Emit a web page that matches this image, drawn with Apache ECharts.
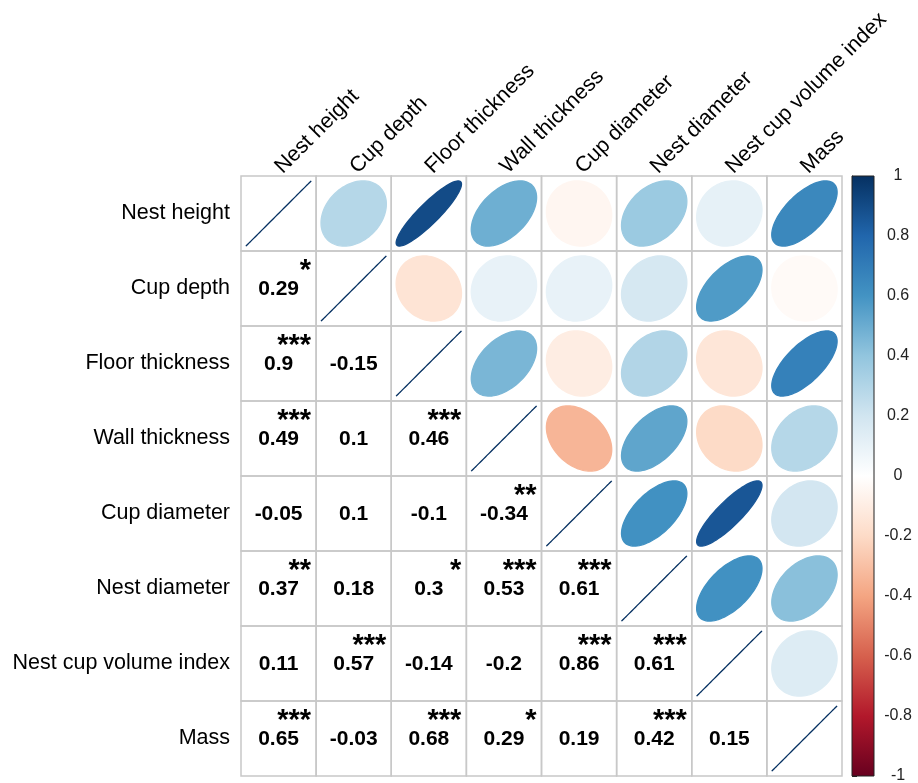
<!DOCTYPE html>
<html>
<head>
<meta charset="utf-8">
<script src="https://cdn.jsdelivr.net/npm/echarts@6/dist/echarts.min.js"></script>
<style>
  html, body { margin: 0; padding: 0; background: #fff; }
  #main { width: 918px; height: 783px; }
</style>
</head>
<body>
<div id="main"></div>
<script>
// variables, in matrix order
const variables = ['Nest height', 'Cup depth', 'Floor thickness', 'Wall thickness',
  'Cup diameter', 'Nest diameter', 'Nest cup volume index', 'Mass'];

// lower triangle of the correlation matrix (row i, columns 0..i)
const corrLower = [
  [1],
  [0.29, 1],
  [0.9, -0.15, 1],
  [0.49, 0.1, 0.46, 1],
  [-0.05, 0.1, -0.1, -0.34, 1],
  [0.37, 0.18, 0.3, 0.53, 0.61, 1],
  [0.11, 0.57, -0.14, -0.2, 0.86, 0.61, 1],
  [0.65, -0.03, 0.68, 0.29, 0.19, 0.42, 0.15, 1]
];

// significance stars, same layout
const sigLower = [
  [''],
  ['*', ''],
  ['***', '', ''],
  ['***', '', '***', ''],
  ['', '', '', '**', ''],
  ['**', '', '*', '***', '***', ''],
  ['', '***', '', '', '***', '***', ''],
  ['***', '', '***', '*', '', '***', '', '']
];

// RdBu palette, from -1 to 1
const palette = ['#67001F', '#B2182B', '#D6604D', '#F4A582', '#FDDBC7', '#FFFFFF',
  '#D1E5F0', '#92C5DE', '#4393C3', '#2166AC', '#053061'];
const scaleMin = -1, scaleMax = 1, scaleStep = 0.2;

const FONT = "'Liberation Sans', Arial, sans-serif";

function corr(i, j) {
  return i >= j ? corrLower[i][j] : corrLower[j][i];
}

const cells = [];
for (let row = 0; row < variables.length; row++) {
  for (let col = 0; col < variables.length; col++) {
    cells.push([col, row, corr(row, col)]);
  }
}

function renderCell(params, api) {
  const col = api.value(0);
  const row = api.value(1);
  const r = api.value(2);
  const c = api.coord([col, row]);
  const size = api.size([1, 1]);
  const w = size[0], h = size[1];
  const children = [{
    type: 'rect',
    shape: { x: c[0] - w / 2, y: c[1] - h / 2, width: w, height: h },
    style: { fill: null, stroke: '#c8c8c8', lineWidth: 1.5 }
  }];
  if (col >= row) {
    // corrplot style ellipse
    const d = Math.acos(r);
    const pts = [];
    for (let i = 0; i < 99; i++) {
      const k = 2 * Math.PI * i / 98;
      pts.push([
        c[0] + Math.cos(k + d / 2) / 2 * w * 0.87,
        c[1] - Math.cos(k - d / 2) / 2 * h * 0.87
      ]);
    }
    const color = api.visual('color');
    children.push({
      type: 'polygon',
      shape: { points: pts },
      style: { fill: color, stroke: color, lineWidth: 1.3 }
    });
  } else {
    children.push({
      type: 'text',
      style: {
        x: c[0], y: c[1] + 1, text: String(r),
        font: 'bold 21px ' + FONT, fill: '#000',
        align: 'center', verticalAlign: 'middle'
      }
    });
    const sig = sigLower[row][col];
    if (sig) {
      children.push({
        type: 'text',
        style: {
          x: c[0] + w / 2 - 5, y: c[1] - 18, text: sig,
          font: 'bold 29px ' + FONT, fill: '#000',
          align: 'right', verticalAlign: 'middle'
        }
      });
    }
  }
  return { type: 'group', children: children };
}

function renderBar(params, api) {
  const cs = params.coordSys;
  const stops = palette.map((col, i) => ({ offset: 1 - i / (palette.length - 1), color: col }));
  return {
    type: 'rect',
    shape: { x: cs.x, y: cs.y, width: cs.width, height: cs.height },
    style: {
      fill: new echarts.graphic.LinearGradient(0, 0, 0, 1, stops),
      stroke: '#222', lineWidth: 1
    }
  };
}

const chart = echarts.init(document.getElementById('main'));
chart.setOption({
  animation: false,
  backgroundColor: '#fff',
  grid: [
    { left: 241, top: 176, width: 601, height: 600, outerBoundsMode: 'none' },
    { left: 852, top: 176, width: 22, height: 600, outerBoundsMode: 'none' }
  ],
  xAxis: [{
    type: 'category', gridIndex: 0, position: 'top', data: variables,
    axisLine: { show: false }, axisTick: { show: false }, splitLine: { show: false },
    axisLabel: { interval: 0, rotate: -45, fontSize: 21.5, fontFamily: FONT, color: '#000', margin: 6 }
  }, {
    type: 'value', gridIndex: 1, min: 0, max: 1, show: false
  }],
  yAxis: [{
    type: 'category', gridIndex: 0, inverse: true, data: variables,
    axisLine: { show: false }, axisTick: { show: false }, splitLine: { show: false },
    axisLabel: { interval: 0, fontSize: 21.5, fontFamily: FONT, color: '#000', margin: 11 }
  }, {
    type: 'value', gridIndex: 1, position: 'right',
    min: scaleMin, max: scaleMax, interval: scaleStep,
    axisLine: { show: true, lineStyle: { color: '#222', width: 1 } },
    axisTick: { show: true, length: 5, lineStyle: { color: '#222' } },
    splitLine: { show: false },
    axisLabel: { fontSize: 16, fontFamily: FONT, color: '#222', align: 'center', margin: 24 }
  }],
  visualMap: {
    type: 'continuous', show: false, min: scaleMin, max: scaleMax,
    dimension: 2, seriesIndex: 0,
    inRange: { color: palette }
  },
  series: [{
    type: 'custom', xAxisIndex: 0, yAxisIndex: 0,
    renderItem: renderCell, data: cells
  }, {
    type: 'custom', xAxisIndex: 1, yAxisIndex: 1,
    renderItem: renderBar, data: [[0, 0]]
  }]
});
</script>
</body>
</html>
